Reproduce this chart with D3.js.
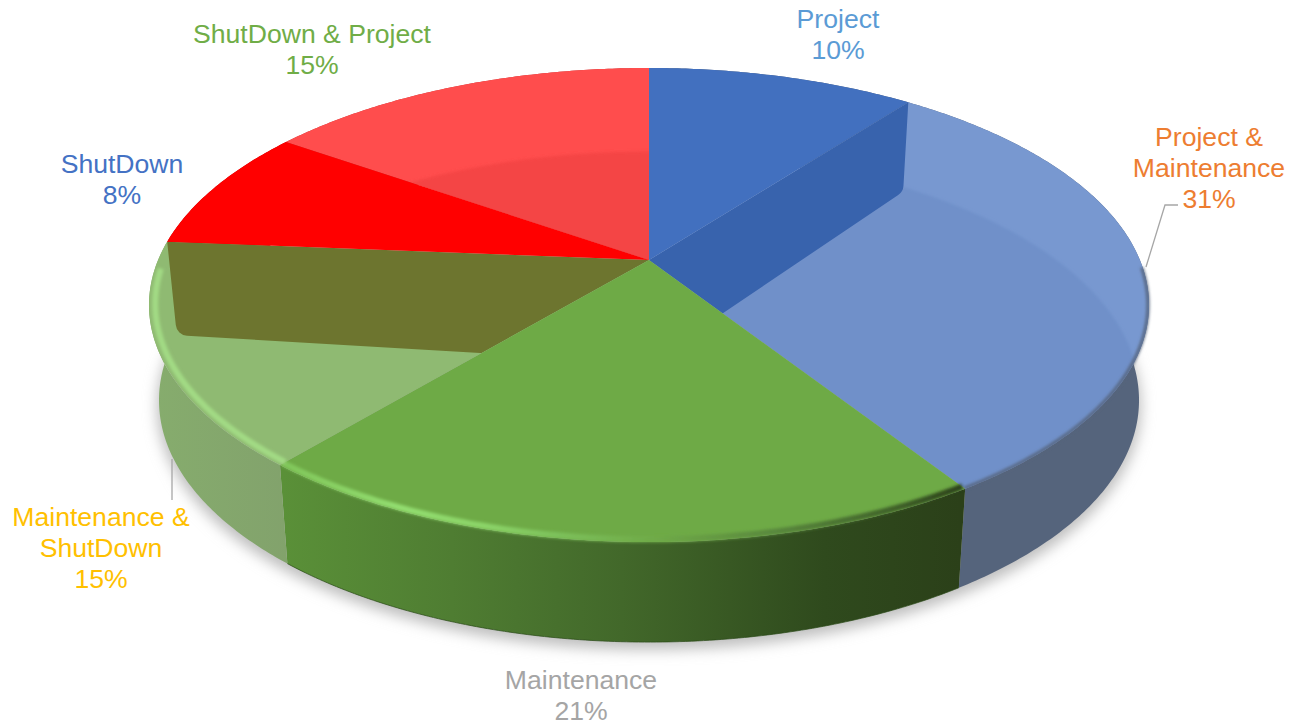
<!DOCTYPE html>
<html>
<head>
<meta charset="utf-8">
<script src="https://cdn.jsdelivr.net/npm/d3@7"></script>
<style>
    html, body { margin: 0; background: #fff; }
    text { font-family: "Liberation Sans", Arial, sans-serif; font-size: 26.6px; text-anchor: middle; }
</style>
</head>
<body>
<svg id="chart" width="1289" height="726"></svg>
<script>
// ---- DATA ----
const categories = ["Project", "Project & Maintenance", "Maintenance", "Maintenance & ShutDown", "ShutDown", "ShutDown & Project"];
// slice sizes as measured on the drawn pie, printed percentages below
const values = [10.4, 30.5, 20.2, 15.2, 8.4, 15.3];
const percents = ["10%", "31%", "21%", "15%", "8%", "15%"];

// ---- STYLE / LAYOUT ----
const topColors = ["#4270BF", "#7898D0", "#6EAA46", "#8FBA72", "#FF0000", "#FF4D4D"];
const labelColors = ["#5B9BD5", "#ED7D31", "#A5A5A5", "#FFC000", "#4472C4", "#70AD47"];
const labelLines = [["Project"], ["Project &", "Maintenance"], ["Maintenance"], ["Maintenance &", "ShutDown"], ["ShutDown"], ["ShutDown & Project"]];
const labelX = [838, 1209, 581, 101, 122, 312];
const labelY = [28, 145.5, 689, 526, 173, 42.5];
const lineGap = 31;

const svg = d3.select("#chart");
const defs = svg.append("defs");

// perspective of the pie plane, fitted to the picture
const cx = 649, cy = 260, k = 0.19, A = 490.9, B = 228.5;

function project(angle, r, z) {
    const u = r * Math.sin(angle), v = -r * Math.cos(angle);
    const d = 1 - k * v;
    return [
        cx + A * u / d * (1 - 0.02 * z),
        cy + B * v / d + z * (94 + 6 * v)
    ];
}

const slices = d3.pie().sort(null).value(d => d)(values);
const line = d3.line();

function arcPoints(a0, a1, r, z) {
    const n = Math.max(2, Math.ceil((a1 - a0) / 0.01));
    return d3.range(n + 1).map(i => project(a0 + (a1 - a0) * i / n, r, z));
}
const topPath = s => line([[cx, cy], ...arcPoints(s.startAngle, s.endAngle, 1, 0)]) + "Z";
const wallPath = s => line([...arcPoints(s.startAngle, s.endAngle, 1, 0), ...arcPoints(s.startAngle, s.endAngle, 1, 1).reverse()]) + "Z";

// ---- FILTERS / GRADIENTS ----
function blur(id, dev) {
    defs.append("filter").attr("id", id)
        .attr("x", "-20%").attr("y", "-20%").attr("width", "140%").attr("height", "140%")
        .append("feGaussianBlur").attr("stdDeviation", dev);
}
blur("shadow", 7);
blur("soft", 1.8);
blur("softer", 0.7);

function gradient(id, x1, x2, stops) {
    const g = defs.append("linearGradient").attr("id", id)
        .attr("gradientUnits", "userSpaceOnUse")
        .attr("x1", x1).attr("x2", x2).attr("y1", 0).attr("y2", 0);
    stops.forEach(([o, c]) => g.append("stop").attr("offset", o).attr("stop-color", c));
}
gradient("wallMaint", 283, 960, [[0, "#5A9038"], [0.25, "#4F7D32"], [0.5, "#42682A"], [0.8, "#2F4A1D"], [1, "#2B4019"]]);
gradient("wallMix", 157, 290, [[0, "#86AC6D"], [1, "#82A26C"]]);
gradient("edgeMaint", 283, 962, [[0, "#80C65A"], [0.17, "#93DE70"], [0.3, "#8BD468"], [0.41, "#7CC05A"], [0.55, "#6FAA48"], [0.75, "#55823A"], [0.9, "#3F6128"], [1, "#2B4019"]]);

const wallFill = ["#55647C", "#55647C", "url(#wallMaint)", "url(#wallMix)", "#B00000", "#C03838"];

slices.forEach((s, i) => {
    defs.append("clipPath").attr("id", `clip${i}`).append("path").attr("d", topPath(s));
});

// ---- SHADOW ----
svg.append("path")
    .attr("d", line(arcPoints(0, 2 * Math.PI, 1.005, 1.06)) + "Z")
    .attr("fill", "#BEBEBE")
    .attr("filter", "url(#shadow)");

// ---- OUTER WALLS ----
svg.selectAll(".wall")
    .data(slices)
    .enter()
    .append("path")
    .attr("class", "wall")
    .attr("d", wallPath)
    .attr("fill", (d, i) => wallFill[i]);

// ---- TOP FACES ----
function drawTops(indices) {
    svg.append("g").selectAll("path")
        .data(indices)
        .enter()
        .append("path")
        .attr("d", i => topPath(slices[i]))
        .attr("fill", i => topColors[i]);
}
// the see-through slices first, the solid ones after what shows through
drawTops([1, 3, 5]);

// ---- SEEN THROUGH THE LIGHT SLICES ----
// floor of the pie, visible through the two back slices
function floorInside(i, colour) {
    svg.append("g").attr("clip-path", `url(#clip${i})`)
        .append("path")
        .attr("d", line(arcPoints(0, 2 * Math.PI, 1, 0.95)) + "Z")
        .attr("fill", colour)
        .attr("filter", "url(#soft)");
}
floorInside(1, "#6F90C9");
floorInside(5, "#F44545");

// inner side wall of a slice edge, rounded at the lower rim corner
function edgeWall(angle, clipIndex, colour) {
    const rimTop = project(angle, 1, 0), rimLow = project(angle, 1, 1);
    const hub = [cx, cy + 103];
    const p = d3.path();
    p.moveTo(cx, cy);
    p.lineTo(rimTop[0], rimTop[1]);
    p.arcTo(rimLow[0], rimLow[1], hub[0], hub[1], 12);
    p.lineTo(hub[0], hub[1]);
    p.closePath();
    svg.append("g").attr("clip-path", `url(#clip${clipIndex})`)
        .append("path")
        .attr("d", p.toString())
        .attr("fill", colour);
}
edgeWall(slices[0].endAngle, 1, "#3863AD");
edgeWall(slices[3].endAngle, 3, "#6D752F");

drawTops([0, 2, 4]);

// ---- BEVEL ALONG THE FRONT RIM ----
function bevel(a0, a1, r, stroke, width, filter) {
    svg.append("path")
        .attr("d", line(arcPoints(a0, a1, r, 0)))
        .attr("fill", "none")
        .attr("stroke", stroke)
        .attr("stroke-width", width)
        .attr("filter", `url(#${filter})`);
}
bevel(slices[1].startAngle + 0.95, slices[1].endAngle, 0.998, "#55647C", 3, "soft");
bevel(slices[2].startAngle, slices[2].endAngle, 0.992, "url(#edgeMaint)", 6, "soft");
bevel(slices[3].startAngle, slices[3].endAngle - 0.12, 0.988, "#A2DA84", 6, "soft");

// dark line at the foot of the green wall
svg.append("path")
    .attr("d", line(arcPoints(slices[2].startAngle, slices[2].endAngle, 1, 1)))
    .attr("fill", "none")
    .attr("stroke", "#2A4A18")
    .attr("stroke-width", 1)
    .attr("opacity", 0.7)
    .attr("filter", "url(#softer)");

// ---- LEADER LINES ----
const leaders = [
    [[1146, 267], [1165, 205], [1178, 205]],
    [[172, 459], [172, 500]]
];
svg.selectAll(".leader")
    .data(leaders)
    .enter()
    .append("path")
    .attr("class", "leader")
    .attr("d", d => line(d))
    .attr("fill", "none")
    .attr("stroke", "#A6A6A6")
    .attr("stroke-width", 1.3);

// ---- LABELS ----
const labels = svg.selectAll(".label")
    .data(categories)
    .enter()
    .append("text")
    .attr("class", "label")
    .attr("fill", (d, i) => labelColors[i]);

labels.each(function(d, i) {
    const rows = [...labelLines[i], percents[i]];
    d3.select(this).selectAll("tspan")
        .data(rows)
        .enter()
        .append("tspan")
        .attr("x", labelX[i])
        .attr("y", (r, j) => labelY[i] + j * lineGap)
        .text(r => r);
});
</script>
</body>
</html>
